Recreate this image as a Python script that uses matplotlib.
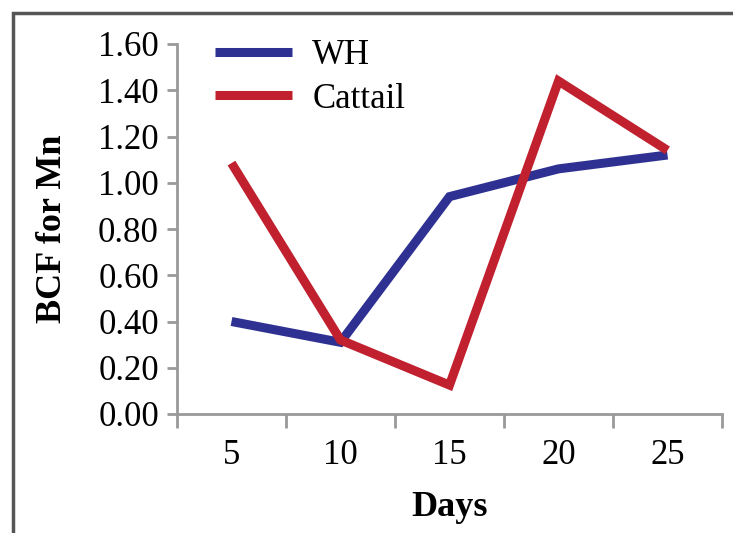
import matplotlib
matplotlib.use("Agg")
import matplotlib.pyplot as plt
from matplotlib.patches import Rectangle
from matplotlib.ticker import FixedLocator

days = ["5", "10", "15", "20", "25"]
wh = [0.40, 0.31, 0.94, 1.06, 1.12]
cattail = [1.085, 0.32, 0.125, 1.44, 1.14]
yticks = [0.0, 0.2, 0.4, 0.6, 0.8, 1.0, 1.2, 1.4, 1.6]

plt.rcParams['font.family'] = ['Liberation Serif', 'DejaVu Serif']

fig = plt.figure(figsize=(7.33, 5.33), dpi=100)
ax = fig.add_axes([177/733, 1-414/533, (722-177)/733, (414-44)/533])

x = list(range(1, len(days)+1))
ax.plot(x, wh, color='#2E3192', lw=6.5, label='WH', solid_capstyle='butt', solid_joinstyle='miter')
ax.plot(x, cattail, color='#C1202F', lw=6.5, label='Cattail', solid_capstyle='butt', solid_joinstyle='miter')

ax.set_xlim(0.5, len(days)+0.5)
ax.set_ylim(0, 1.6)
ax.set_xticks(x)
ax.set_xticklabels(days, fontsize=25)
ax.tick_params(axis='x', which='major', length=0, pad=18)
ax.xaxis.set_minor_locator(FixedLocator([i+0.5 for i in range(0, len(days)+1)]))
ax.tick_params(axis='x', which='minor', length=10, width=2, color='#999999')
ax.set_yticks(yticks)
ax.set_yticklabels([f"{v:.2f}" for v in yticks], fontsize=25)
ax.tick_params(axis='y', length=7, width=2, color='#999999', pad=6)

for s in ['top', 'right']:
    ax.spines[s].set_visible(False)
for s in ['left', 'bottom']:
    ax.spines[s].set_color('#999999')
    ax.spines[s].set_linewidth(2)

ax.set_xlabel('Days', fontsize=26, fontweight='bold', labelpad=14)
ax.set_ylabel('BCF for Mn', fontsize=26, fontweight='bold', labelpad=21)

leg = ax.legend(loc='upper left', bbox_to_anchor=(0.07, 1.013), frameon=False,
                borderpad=0, borderaxespad=0,
                fontsize=25, handlelength=2.2, handletextpad=0.6, labelspacing=0.3)

fig.patches.append(Rectangle((13/733, -0.1), 1.2, 1-13/533+0.1, transform=fig.transFigure,
                             fill=False, edgecolor='#555555', linewidth=2.5, clip_on=False))

fig.savefig('out.png', dpi=100)
